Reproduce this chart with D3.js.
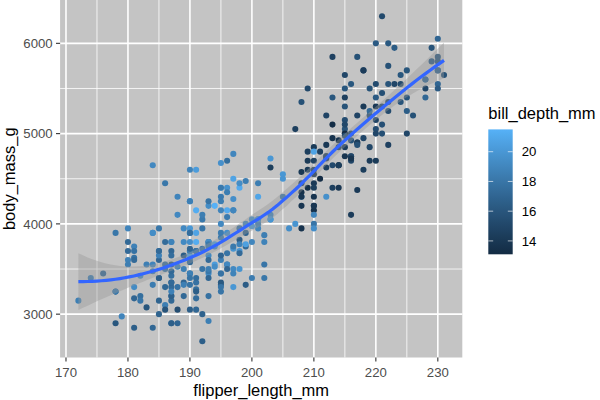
<!DOCTYPE html>
<html><head><meta charset="utf-8">
<script src="https://cdn.jsdelivr.net/npm/d3@7"></script>
<style>body{margin:0;background:#fff}svg{display:block;font-family:"Liberation Sans",Arial,Helvetica,sans-serif}</style>
</head><body><svg id="c" width="600" height="400"></svg>
<script>
// ---- data (Adelie, Gentoo, Chinstrap) ----
const flipper_length_mm = [
181,186,195,193,190,181,195,193,190,186,180,182,191,198,185,195,197,184,194,
174,180,189,185,180,187,183,187,172,180,
178,178,188,184,195,196,190,180,181,184,182,195,186,196,185,190,182,179,190,191,
186,188,190,200,187,191,186,193,181,194,185,195,185,192,184,192,195,188,
190,198,190,190,196,197,190,195,191,184,187,195,189,196,187,193,
191,194,190,189,189,190,202,205,185,186,187,208,190,196,178,192,
192,203,183,190,193,184,199,190,181,197,198,191,193,197,191,196,
188,199,189,189,187,198,176,202,186,199,191,195,191,210,190,197,
193,199,187,190,191,200,185,193,193,187,188,190,192,185,190,184,195,193,187,201,
211,230,210,218,215,210,211,219,209,215,214,216,214,213,210,217,210,221,209,222,
218,215,213,215,215,215,216,215,210,220,222,209,207,230,220,220,213,219,208,208,
208,225,210,216,222,217,210,225,213,215,210,220,210,225,217,220,208,220,208,224,
208,221,214,231,219,230,214,229,220,223,216,221,221,217,216,230,209,220,215,223,
212,221,212,224,212,228,218,218,212,230,218,228,212,224,214,226,216,222,203,225,
219,228,215,228,216,215,210,219,208,209,216,229,213,230,217,230,217,222,214,215,
222,212,213,
192,196,193,188,197,198,178,197,195,198,193,194,185,201,190,201,197,181,190,195,
181,191,187,193,195,197,200,200,191,205,187,201,187,203,195,199,195,210,192,205,
210,187,196,196,196,201,190,212,187,198,199,201,193,203,187,197,191,203,202,194,
206,189,195,207,202,193,210,198];
const body_mass_g = [
3750,3800,3250,3450,3650,3625,4675,3475,4250,3300,3700,3200,3800,4400,3700,3450,4500,3325,4200,
3400,3600,3800,3950,3800,3800,3550,3200,3150,3950,
3250,3900,3300,3900,3325,4150,3950,3550,3300,4650,3150,3900,3100,4400,3000,4600,3425,2975,3450,4150,
3500,4300,3450,4050,2900,3700,3550,3800,2850,3750,3150,4400,3600,4050,2850,3950,3350,4100,
3050,4450,3600,3900,3550,4150,3700,4250,3700,3900,3550,4000,3200,4700,3800,4200,
3350,3550,3800,3500,3950,3600,3550,4300,3400,4450,3300,4300,3700,4350,2900,4100,
3725,4725,3075,4250,2925,3550,3750,3900,3175,4775,3825,4600,3200,4275,3900,4075,
2900,3775,3350,3325,3150,3500,3450,3875,3050,4000,3275,4300,3050,4000,3325,3500,
3500,4475,3425,3900,3175,3975,3400,4250,3400,3475,3050,3725,3000,3650,4250,3475,3450,3750,3700,4000,
4500,5700,4450,5700,5400,4550,4800,5200,4400,5150,4650,5550,4650,5850,4200,5850,4150,6300,4800,5350,
5700,5000,4400,5050,5000,5100,4100,5650,4600,5550,5250,4700,5050,6050,5150,5400,4950,5250,4350,5350,
3950,5700,4300,4750,5550,4900,4200,5400,5100,5300,4850,5300,4400,5000,4900,5050,4300,5000,4450,5550,
4200,5300,4400,5650,4700,5700,4650,5800,4700,5550,4750,5000,5100,5200,4700,5800,4600,6000,4750,5950,
4625,5450,4725,5350,4750,5600,4600,5300,4875,5550,4950,5400,4750,5650,4850,5200,4925,4875,4625,5250,
4850,5600,4975,5500,4725,5500,4700,5500,4575,5500,5000,5950,4650,5500,4375,5850,4875,6000,4925,4850,
5750,5200,5400,
3500,3900,3650,3525,3725,3950,3250,3750,4150,3700,3800,3775,3700,4050,3575,4050,3300,3700,3450,4400,
3600,3400,2900,3800,3300,4150,3400,3800,3700,4550,3200,4300,3350,4100,3600,3900,3850,4800,2700,4500,
3950,3650,3550,3500,3675,4450,3400,4300,3250,3675,3325,3950,3600,4050,3350,3450,3250,4050,3800,3525,
3950,3650,3650,4000,3400,3775,4100,3775];
const bill_depth_mm = [
18.7,17.4,18.0,19.3,20.6,17.8,19.6,18.1,20.2,17.1,17.3,17.6,21.2,21.1,17.8,19.0,20.7,18.4,21.5,
18.3,18.7,19.2,18.1,17.2,18.9,18.6,17.9,18.6,18.9,
16.7,18.1,17.8,18.9,17.0,21.1,20.0,18.5,19.3,19.1,18.0,18.4,18.5,19.7,16.9,18.8,19.0,18.9,17.9,21.2,
17.7,18.9,17.9,19.5,18.1,18.6,17.5,18.8,16.6,19.1,16.9,21.1,17.0,18.2,17.1,18.0,16.2,19.1,
16.6,19.4,19.0,18.4,17.2,18.9,17.5,18.5,16.8,19.4,16.1,19.1,17.2,17.6,18.8,19.4,
17.8,20.3,19.5,18.6,19.2,18.8,18.0,18.1,17.1,18.1,17.3,18.9,18.6,18.5,16.1,18.5,
17.9,20.0,16.0,20.0,18.6,18.9,17.2,20.0,17.0,19.0,16.5,20.3,17.7,19.5,20.7,18.3,
17.0,20.5,17.0,18.6,17.2,19.8,17.0,18.5,15.9,19.0,17.6,18.3,17.1,18.0,17.9,19.2,
18.5,18.5,17.6,17.5,17.5,20.1,16.5,17.9,17.1,17.2,15.5,17.0,16.8,18.7,18.6,18.4,17.8,18.1,17.1,18.5,
13.2,16.3,14.1,15.2,14.5,13.5,14.6,15.3,13.4,15.4,13.7,16.1,13.7,14.6,14.6,15.7,13.5,15.2,14.5,15.1,
14.3,14.5,14.5,15.8,13.1,15.1,14.3,15.0,14.3,15.3,15.3,14.2,14.5,17.0,14.8,16.3,13.7,17.3,13.6,15.7,
13.7,16.0,13.7,15.0,15.9,13.9,13.9,15.9,13.3,15.8,14.2,14.1,14.4,15.0,14.4,15.4,13.9,15.0,14.5,15.3,
13.8,14.9,13.9,15.7,14.2,16.8,14.4,16.2,14.2,15.0,15.0,15.6,15.6,14.8,15.0,16.0,14.2,16.3,13.8,16.4,
14.5,15.6,14.6,15.9,13.8,17.3,14.4,14.2,14.0,17.0,15.0,17.1,14.5,16.1,14.7,15.7,15.8,14.6,14.4,16.5,
15.0,17.0,15.5,15.0,13.8,16.1,14.7,15.8,14.0,15.1,15.2,15.9,15.2,16.3,14.1,16.0,15.7,16.2,13.7,14.3,
15.7,14.8,16.1,
17.9,19.5,19.2,18.7,19.8,17.8,18.2,18.2,18.9,19.9,17.8,20.3,17.3,18.1,17.1,19.6,20.0,17.8,18.6,18.2,
17.3,17.5,16.6,19.4,17.9,19.0,18.4,19.0,17.8,20.0,16.6,20.8,16.7,18.8,18.6,16.8,18.3,20.7,16.6,19.9,
19.5,17.5,19.1,17.0,17.9,18.5,17.9,19.6,18.7,17.3,16.4,19.0,17.3,19.7,17.3,18.8,16.6,19.9,18.8,19.4,
19.5,16.5,17.0,19.8,18.1,18.2,19.0,18.7];

const xTicks = [170,180,190,200,210,220,230];
const xMinorTicks = [175,185,195,205,215,225];
const yTicks = [3000,4000,5000,6000];
const yMinorTicks = [3500,4500,5500];
const colorTicks = [14,16,18,20];

// ---- loess (degree 2, span 0.75, tricube) ----
function localRow(xs, x0, q) {
  const n = xs.length;
  const d = xs.map(x => Math.abs(x - x0));
  const h = d.slice().sort((a,b)=>a-b)[q-1] * 1.0000001;
  const w = new Float64Array(n);
  const S = [0,0,0,0,0];
  for (let i=0;i<n;i++){
    const r = d[i]/h;
    w[i] = r < 1 ? Math.pow(1 - r*r*r, 3) : 0;
    const u = (xs[i]-x0)/h; let p = w[i];
    for (let k=0;k<5;k++){ S[k]+=p; p*=u; }
  }
  const a=S[0],b=S[1],c=S[2],e=S[3],f=S[4];
  const det = a*(c*f-e*e) - b*(b*f-e*c) + c*(b*e-c*c);
  const c0=(c*f-e*e)/det, c1=-(b*f-c*e)/det, c2=(b*e-c*c)/det;
  const l = new Float64Array(n);
  for (let i=0;i<n;i++){ const u=(xs[i]-x0)/h; l[i]=w[i]*(c0+c1*u+c2*u*u); }
  return l;
}
function loessSmooth(xs, ys, span, nOut) {
  const n = xs.length, q = Math.floor(n*span);
  const cache = new Map();
  const rowAt = x0 => { if(!cache.has(x0)) cache.set(x0, localRow(xs,x0,q)); return cache.get(x0); };
  const B = [];
  let rss = 0;
  for (let i=0;i<n;i++){
    const l = rowAt(xs[i]);
    let fit=0; for(let j=0;j<n;j++) fit+=l[j]*ys[j];
    rss += (ys[i]-fit)**2;
    const r = Float64Array.from(l, v=>-v); r[i]+=1; B.push(r);
  }
  let one=0; for(const r of B) for(const v of r) one+=v*v;
  let two=0;
  const col = new Float64Array(n);
  for (let j=0;j<n;j++){
    for (let k=j;k<n;k++){
      let s=0; for(let i=0;i<n;i++) s+=B[i][j]*B[i][k];
      two += (k===j?1:2)*s*s;
    }
  }
  const df = one*one/two;
  const z = 1.959963985;
  const t = z + (z**3+z)/(4*df) + (5*z**5+16*z**3+3*z)/(96*df*df);
  const s = Math.sqrt(rss/one);
  const [x0,x1] = d3.extent(xs);
  return d3.range(nOut).map(k => {
    const xv = x0 + k*(x1-x0)/(nOut-1);
    const l = localRow(xs, xv, q);
    let fit=0, ss=0; for(let j=0;j<n;j++){ fit+=l[j]*ys[j]; ss+=l[j]*l[j]; }
    const se = s*Math.sqrt(ss);
    return {x:xv, y:fit, lo:fit-t*se, hi:fit+t*se};
  });
}

// ---- layout ----
const svg = d3.select("#c");
const P = {l:60.1, r:462.3, t:0, b:357.5};
const ext = (a) => { const [lo,hi]=d3.extent(a); const m=(hi-lo)*0.05; return [lo-m, hi+m]; };
const x = d3.scaleLinear().domain(ext(flipper_length_mm)).range([P.l,P.r]);
const y = d3.scaleLinear().domain(ext(body_mass_g)).range([P.b,P.t]);
const dExt = d3.extent(bill_depth_mm);
const color = d3.scaleLinear().domain(dExt).range(["#132B43","#56B1F7"]).interpolate(d3.interpolateLab);

svg.append("defs").append("clipPath").attr("id","clip").append("rect")
  .attr("x",P.l).attr("y",P.t).attr("width",P.r-P.l).attr("height",P.b-P.t);

svg.append("rect").attr("x",P.l).attr("y",P.t).attr("width",P.r-P.l).attr("height",P.b-P.t).attr("fill","#C4C4C4");
const grid = svg.append("g").attr("stroke","#fff");
xMinorTicks.forEach(v=>grid.append("line").attr("x1",x(v)).attr("x2",x(v)).attr("y1",P.t).attr("y2",P.b).attr("stroke-width",0.8));
yMinorTicks.forEach(v=>grid.append("line").attr("y1",y(v)).attr("y2",y(v)).attr("x1",P.l).attr("x2",P.r).attr("stroke-width",0.8));
xTicks.forEach(v=>grid.append("line").attr("x1",x(v)).attr("x2",x(v)).attr("y1",P.t).attr("y2",P.b).attr("stroke-width",1.6));
yTicks.forEach(v=>grid.append("line").attr("y1",y(v)).attr("y2",y(v)).attr("x1",P.l).attr("x2",P.r).attr("stroke-width",1.6));

const plot = svg.append("g").attr("clip-path","url(#clip)");
plot.selectAll("circle").data(d3.range(flipper_length_mm.length)).join("circle")
  .attr("cx",i=>x(flipper_length_mm[i])).attr("cy",i=>y(body_mass_g[i])).attr("r",3.05)
  .attr("fill",i=>color(bill_depth_mm[i]));

const sm = loessSmooth(flipper_length_mm, body_mass_g, 0.75, 80);
plot.append("path").attr("d", d3.area().x(d=>x(d.x)).y0(d=>y(d.lo)).y1(d=>y(d.hi))(sm))
  .attr("fill","#999999").attr("fill-opacity",0.4);
plot.append("path").attr("d", d3.line().x(d=>x(d.x)).y(d=>y(d.y))(sm))
  .attr("fill","none").attr("stroke","#3366FF").attr("stroke-width",3.2);

// axes
const ax = svg.append("g");
xTicks.forEach(v=>{
  ax.append("line").attr("x1",x(v)).attr("x2",x(v)).attr("y1",P.b).attr("y2",P.b+4.1).attr("stroke","#333").attr("stroke-width",1.1);
  ax.append("text").attr("x",x(v)).attr("y",376.8).attr("text-anchor","middle").attr("font-size",13.2).attr("fill","#4D4D4D").text(v);
});
yTicks.forEach(v=>{
  ax.append("line").attr("x1",P.l-4.1).attr("x2",P.l).attr("y1",y(v)).attr("y2",y(v)).attr("stroke","#333").attr("stroke-width",1.1);
  ax.append("text").attr("x",P.l-7.4).attr("y",y(v)).attr("dy","0.36em").attr("text-anchor","end").attr("font-size",13.2).attr("fill","#4D4D4D").text(v);
});
ax.append("text").attr("x",(P.l+P.r)/2).attr("y",395.5).attr("text-anchor","middle").attr("font-size",16.5).attr("fill","#000").text("flipper_length_mm");
ax.append("text").attr("transform",`translate(14.5,${(P.t+P.b)/2}) rotate(-90)`).attr("text-anchor","middle").attr("font-size",16.5).attr("fill","#000").text("body_mass_g");

// legend
const L = {x:488.3, w:24.4, top:129.4, bot:254.3};
const ly = d3.scaleLinear().domain(dExt).range([L.bot,L.top]);
const grad = svg.select("defs").append("linearGradient").attr("id","cb").attr("x1",0).attr("y1",1).attr("x2",0).attr("y2",0);
d3.range(0,1.0001,0.05).forEach(f=>grad.append("stop").attr("offset",f).attr("stop-color",color(dExt[0]+f*(dExt[1]-dExt[0]))));
const lg = svg.append("g");
lg.append("text").attr("x",L.x).attr("y",118.5).attr("font-size",16.5).attr("fill","#000").text("bill_depth_mm");
lg.append("rect").attr("x",L.x).attr("y",L.top).attr("width",L.w).attr("height",L.bot-L.top).attr("fill","url(#cb)");
colorTicks.forEach(v=>{
  lg.append("line").attr("x1",L.x).attr("x2",L.x+L.w/5).attr("y1",ly(v)).attr("y2",ly(v)).attr("stroke","#fff").attr("stroke-opacity",0.8).attr("stroke-width",0.8);
  lg.append("line").attr("x1",L.x+L.w*4/5).attr("x2",L.x+L.w).attr("y1",ly(v)).attr("y2",ly(v)).attr("stroke","#fff").attr("stroke-opacity",0.8).attr("stroke-width",0.8);
  lg.append("text").attr("x",521.7).attr("y",ly(v)).attr("dy","0.36em").attr("font-size",13.2).attr("fill","#000").text(v);
});
</script></body></html>
